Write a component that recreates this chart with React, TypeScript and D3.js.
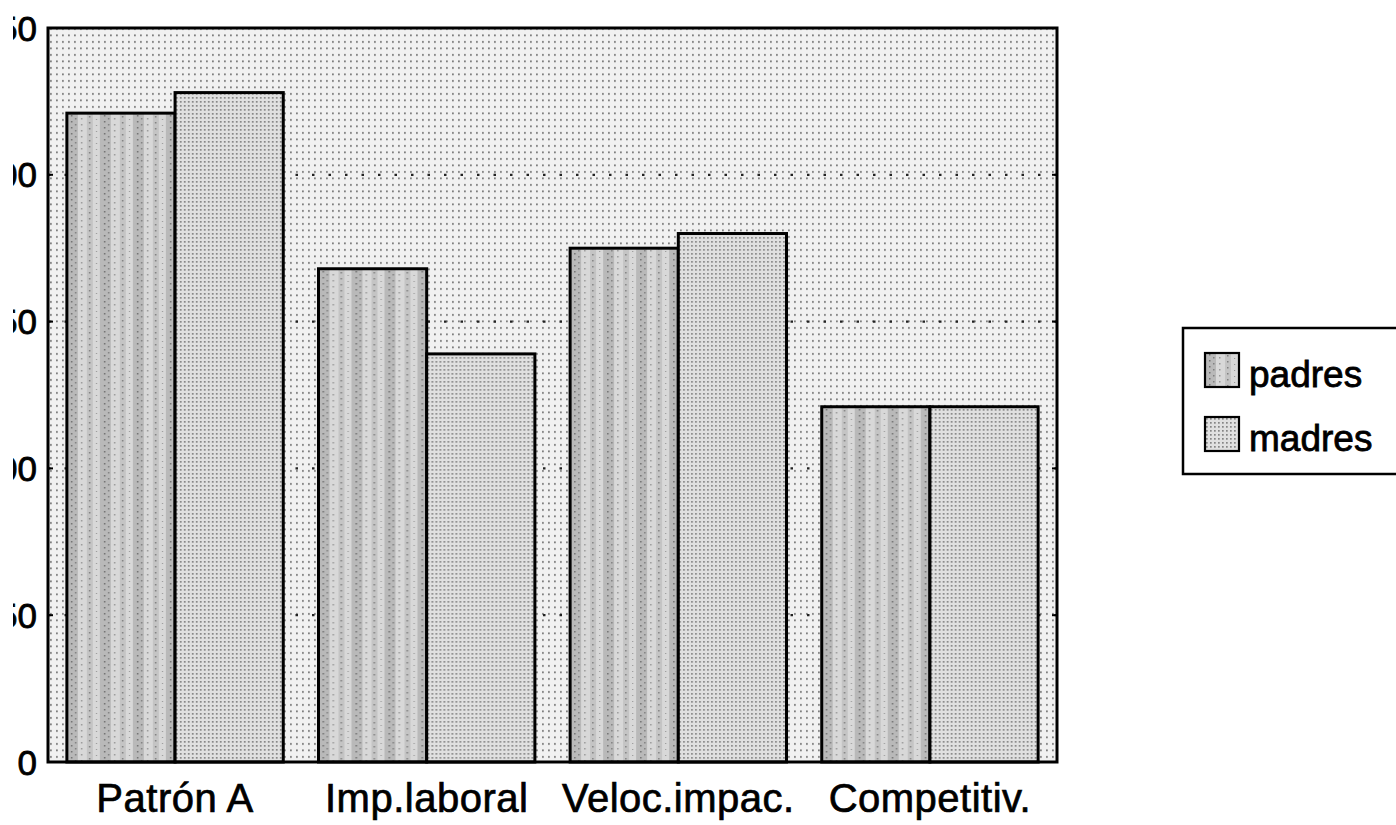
import React from "react";
import * as d3 from "d3";

const categories = ["Patrón A", "Imp.laboral", "Veloc.impac.", "Competitiv."];
const seriesNames = ["padres", "madres"];
const padres = [221, 168, 175, 121];
const madres = [228, 139, 180, 121];
const yTicks = [0, 50, 100, 150, 200, 250];
const gridTicks = [50, 100, 150, 200];

const W = 1396;
const H = 825;
const M = { left: 48, top: 28, right: 1057, bottom: 762 };
const FONT = "'Liberation Sans', Arial, Helvetica, sans-serif";

export default function App() {
  const x = d3
    .scaleBand<string>()
    .domain(categories)
    .range([M.left, M.right])
    .paddingInner(0.14)
    .paddingOuter(0.075);
  const xs = d3.scaleBand<string>().domain(seriesNames).range([0, x.bandwidth()]);
  const y = d3.scaleLinear().domain([0, 250]).range([M.bottom, M.top]);
  const series = [padres, madres];
  const fills = ["url(#padresPat)", "url(#madresPat)"];

  return (
    <svg
      width={W}
      height={H}
      style={{ position: "absolute", left: 0, top: 0, background: "#fff" }}
    >
      <defs>
        <pattern id="bgPat" width="6" height="6.5" patternUnits="userSpaceOnUse">
          <rect width="6" height="6.5" fill="#f1f1f1" />
          <rect x="2" y="2" width="1.8" height="1.8" fill="#7a7a7a" />
        </pattern>
        <pattern id="padresPat" width="33" height="6" patternUnits="userSpaceOnUse">
          <rect width="33" height="6" fill="#d8d8d8" />
          <rect x="0" width="11" height="6" fill="#b9b9b9" />
          <rect x="20" width="6" height="6" fill="#c4c4c4" />
          <rect x="4" y="1" width="1.5" height="1.5" fill="#707070" />
          <rect x="8" y="4" width="1.5" height="1.5" fill="#808080" />
          <rect x="14" y="4" width="1.5" height="1.5" fill="#999" />
          <rect x="22" y="2" width="1.5" height="1.5" fill="#808080" />
          <rect x="29" y="5" width="1.2" height="1" fill="#999" />
        </pattern>
        <pattern id="madresPat" width="4" height="4" patternUnits="userSpaceOnUse">
          <rect width="4" height="4" fill="#e0e0e0" />
          <rect x="1" y="1" width="1.7" height="1.7" fill="#858585" />
        </pattern>
        <clipPath id="yClip">
          <rect x="13" y="0" width="40" height={H} />
        </clipPath>
      </defs>

      {/* plot background */}
      <rect
        x={M.left}
        y={M.top}
        width={M.right - M.left}
        height={M.bottom - M.top}
        fill="url(#bgPat)"
      />

      {/* dotted grid lines */}
      {gridTicks.map((t) => (
        <line
          key={t}
          x1={M.left}
          x2={M.right}
          y1={y(t)}
          y2={y(t)}
          stroke="#222"
          strokeWidth={2.2}
          strokeDasharray="2.5 14"
        />
      ))}

      {/* bars */}
      {categories.map((c, i) => (
        <g key={c} transform={`translate(${x(c)},0)`}>
          {series.map((s, j) => (
            <rect
              key={j}
              x={xs(seriesNames[j])}
              y={y(s[i])}
              width={xs.bandwidth()}
              height={y(0) - y(s[i])}
              fill={fills[j]}
              stroke="#000"
              strokeWidth={3}
            />
          ))}
        </g>
      ))}

      {/* frame */}
      <rect
        x={M.left}
        y={M.top}
        width={M.right - M.left}
        height={M.bottom - M.top}
        fill="none"
        stroke="#000"
        strokeWidth={3}
      />
      {yTicks.slice(1, -1).map((t) => (
        <g key={t}>
          <line x1={M.left} x2={M.left + 5} y1={y(t)} y2={y(t)} stroke="#000" strokeWidth={2} />
          <line x1={M.right - 5} x2={M.right} y1={y(t)} y2={y(t)} stroke="#000" strokeWidth={2} />
        </g>
      ))}

      {/* y tick labels (cropped by the scan edge, as in the reference) */}
      <g clipPath="url(#yClip)">
        {yTicks.map((t) => (
          <text
            key={t}
            x={37}
            y={y(t)}
            dy="0.36em"
            textAnchor="end"
            fontFamily={FONT}
            fontSize={35}
            fill="#000"
            stroke="#000"
            strokeWidth={0.8}
          >
            {t}
          </text>
        ))}
      </g>

      {/* x labels */}
      {categories.map((c) => (
        <text
          key={c}
          x={(x(c) as number) + x.bandwidth() / 2}
          y={812}
          textAnchor="middle"
          fontFamily={FONT}
          fontSize={40}
          letterSpacing={0.5}
          fill="#000"
          stroke="#000"
          strokeWidth={0.7}
        >
          {c}
        </text>
      ))}

      {/* legend */}
      <rect x={1183} y={328} width={230} height={146} fill="#fff" stroke="#000" strokeWidth={2.5} />
      {seriesNames.map((n, j) => (
        <g key={n} transform={`translate(1205, ${353 + j * 64})`}>
          <rect width={34} height={34} fill={fills[j]} stroke="#000" strokeWidth={2.2} />
          <text
            x={44}
            y={34}
            fontFamily={FONT}
            fontSize={37}
            fill="#000"
            stroke="#000"
            strokeWidth={0.8}
          >
            {n}
          </text>
        </g>
      ))}
    </svg>
  );
}
